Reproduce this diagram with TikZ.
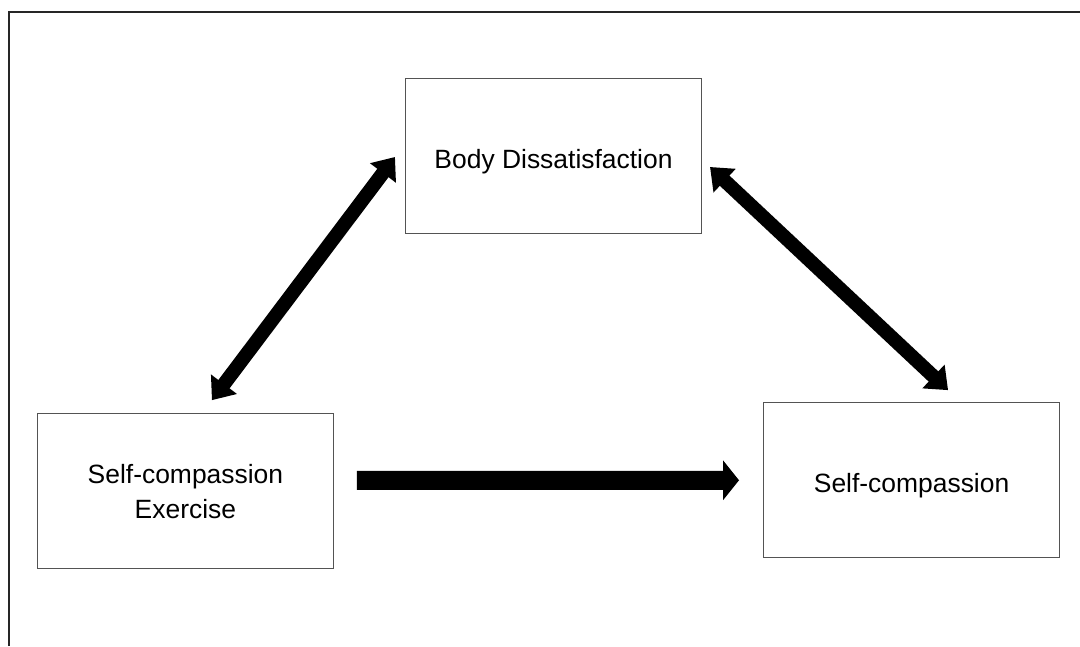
\documentclass[tikz,border=0pt]{standalone}
\usepackage{fontspec}
\setmainfont{Liberation Sans}
\usepackage{tikz}
\usetikzlibrary{arrows.meta, positioning}

\begin{document}
\begin{tikzpicture}[
    x=0.025cm, y=-0.025cm,
    box/.style={draw=gray!65!black, line width=0.7pt, rectangle, minimum width=7.4cm, minimum height=3.88cm, align=center, font=\fontsize{18.8}{25}\selectfont},
    twoway/.style={line width=0.35cm, {Triangle[length=0.5cm, width=0.78cm]}-{Triangle[length=0.5cm, width=0.78cm]}},
    oneway/.style={line width=0.475cm, -{Triangle[length=0.4cm, width=0.975cm]}}
]
    \useasboundingbox (0,0) rectangle (1080,646);

    % outer frame
    \draw[line width=1.4pt, black!85] (9,646) -- (9,12) -- (1080,12);

    % Body dissatisfaction
    \node[box, text height=22pt, text depth=4pt] (body) at (553.5,156) {Body Dissatisfaction};

    % Exercise
    \node[box, below left=4.475cm and 1.775cm of body] (exercise) {Self-compassion\\Exercise};

    % Self-compassion
    \node[box, text height=22pt, text depth=4pt, below right=4.2cm and 1.525cm of body] (selfcomp) {Self-compassion};

    % Arrows
    \draw[twoway] ([shift={(26.5,-13)}]exercise.north) -- ([shift={(-10,1)}]body.west);
    \draw[twoway] ([shift={(8,11)}]body.east) -- ([shift={(36.5,-12)}]selfcomp.north);
    \draw[oneway] ([shift={(23,-11)}]exercise.east) -- ([xshift=-0.6cm]selfcomp.west);

\end{tikzpicture}
\end{document}
